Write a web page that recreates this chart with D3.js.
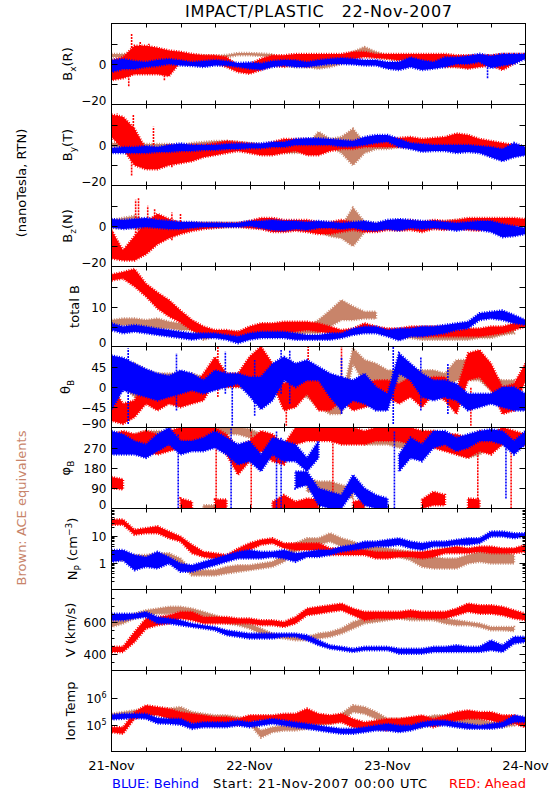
<!DOCTYPE html>
<html><head><meta charset="utf-8">
<script src="https://cdn.jsdelivr.net/npm/d3@7"></script>
<style>body{margin:0;background:#fff}svg{display:block}text{font-family:"DejaVu Sans",sans-serif}</style>
</head><body><svg id="c" width="550" height="800"></svg>
<script>
// time grid (hours after 21-Nov-2007 00:00 UTC)
const hours = [0,2,4,6,8,10,12,14,16,18,20,22,24,26,28,30,32,34,36,38,40,42,44,46,48,50,52,54,56,58,60,62,64,66,68,70,72];
const tickHours = [0,6,12,18,24,30,36,42,48,54,60,66,72];
const dayHours = [0,24,48,72];
const dayLabels = ["21-Nov","22-Nov","23-Nov","24-Nov"];

// ---- Bx (R) nT, [low, high] envelope per time ----
const bxBlue = [[-4,2],[-2.5,2.5],[-2.5,1.5],[-1.5,1],[-1,2],[0,2.5],[-0.7,1.8],[-1,1],[-1.5,1.5],[-0.7,2],[-0.7,1.5],[-1.5,0.5],[-2.3,0.8],[-2.8,0.3],[-1.5,1.5],[-0.7,2],[-1.5,1.8],[-1.5,1],[-0.7,2],[0,2.6],[0,3],[-0.2,2.6],[-0.7,2],[-0.7,2],[-2.3,1],[-3,1],[-1.5,3.3],[-3,1.8],[-2.3,1],[-1.5,3.3],[0,3.3],[0,4],[1,5],[-2,4],[-0.7,5],[0,5],[2.6,5]];
const bxRed = [[-8,2],[-7,3.4],[-5,9],[-5,9],[-5,8],[-6,6.7],[1,6],[1,5],[1,4.3],[0.2,4.3],[-1.5,3.4],[-4,-0.7],[-4.8,0],[-3,2.6],[-0.7,4.3],[-1.5,4.3],[0.2,5],[-1.5,5],[1,5],[1.8,5],[1,5],[2.6,6],[3.4,6],[3,5],[2.6,5],[1.8,5],[2.6,5],[1.8,5],[0.2,5],[-1.5,5],[-1.5,4.3],[-2.3,4.3],[-1.5,4.3],[-0.7,4.3],[-3,5],[0.2,5],[3.4,5]];
const bxBrown = [[3.4,5],[3.4,5],[3.4,5],[2.6,4.3],[2.6,4.3],[2.6,4.3],[2.6,4.3],[2.6,4.3],[2.6,4.3],[2.6,4],[3.4,4.5],[4.3,5.4],[4.3,5.4],[4,5.2],[3.4,4.8],[-1,2],[-1.5,1],[-1.5,1],[-2.3,0.5],[-1.5,1.8],[0,3.4],[2.6,6],[6,8.4],[3.4,6],[2.6,4.3],[1.8,4],[1.8,4],[1,3.4],[1,3.4],[-1,2.6],[-1.5,1.8],[-1.5,1.8],[-0.7,2.6],[0,3],[0,3],[0.5,3.4],null];
const bxRedSpikes = [[3.0,-11,2],[3.5,2,15],[5,4,11],[6.5,2,10],[9.2,-8,0]];
const bxBlueSpikes = [[65.4,-7,1]];

// ---- By (T) nT ----
const byBlue = [[-4,-1.5],[-4,-1],[-4,-1],[-4,-0.5],[-3.5,-1],[-3.5,0],[-3,0.8],[-3,0],[-2.5,0],[-2.5,0],[-2,0.5],[-2,0.8],[-1.6,0.8],[-1.6,0.8],[-1,1.5],[-1,1.5],[0,3],[0,3.3],[0,3.3],[0,3],[-0.8,2.5],[-0.8,2],[0,4],[1,5],[1.6,5],[-1,3],[-2,1],[-3.3,0.5],[-3,0],[-3,0],[-4,0],[-3.5,0],[-4,-0.5],[-6,-1],[-8,-2],[-6,1],[-5,-1]];
const byRed = [[4,15],[-2,14],[-10,8],[-12,-2],[-12,-3],[-10,0],[-9,-1],[-8,0],[-6,0],[-5,1],[-4,2],[-3,1.5],[-4,0.8],[-5,0],[-5,1.5],[-4,3],[-3,3],[-5,3],[-5,1],[-3,1],[-2,1.5],[-2,2],[-1,3],[-1,3],[-1,3],[-1,3.5],[-1,4],[-1,3],[-1,3.5],[-1,4],[0,5.7],[-1,5],[-2,3],[-2,2],[-2,1],[-2.5,0],[-3,-1]];
const byBrown = [[-1,1],[-1,1],[-2,1],[-2,0.5],[-2,0.5],[-2,0.5],[-2,0],[-1,1],[-0.5,1.5],[0,2],[0,2],[-0.5,1.5],[-1,1],[-2,0.5],[-3,0],[-4,-1],[-4,-1],[-3,0],[3,6.5],[-1,3],[-4,4],[-10,8],[-4,1],[-2,1],[-2,1],[-1,1.5],[-1,1.5],[-1,1],[-1,1],[-1,1],[-2,0.5],[-2,0.5],[-2,0],[-2,0],[-2,0],[-2,0],null];
const byRedSpikes = [[1,5,15.6],[3.5,-15,-3],[3.8,2,15],[7.3,-3,9],[10.5,-11,0]];

// ---- Bz (N) nT ----
const bzBlue = [[-0.7,3.4],[-1.5,3],[-1,3.4],[-0.5,4],[-1,3],[-1.5,2.6],[-1.5,2],[-1,2],[-0.5,1.6],[-0.5,1.6],[-0.5,1.5],[-0.5,1.5],[0,2.5],[-1,2.5],[-2,3],[-2.3,2.5],[-1.5,2.5],[-2,2],[-1,2.5],[-1,2],[-1.5,1.5],[-1,2],[-2,2.5],[-2.3,1.5],[-1.5,3],[-2.3,3.4],[-1,3],[-1.5,2.5],[-1,2.5],[-1.5,2],[-2.3,1.5],[-1.5,2],[-2,2.5],[-3,2.5],[-5.5,1],[-5,0],[-4,-1]];
const bzRed = [[-16,-2],[-17,-12],[-17,-5],[-14,2],[-9,6],[-6,3.4],[-4,1.5],[-2.5,1.5],[-1.5,1.5],[-1,1.5],[-0.5,1.5],[-0.5,1.5],[-1,2.5],[-1.5,4],[-3,4],[-3,3],[-2.3,3],[-3,3],[-4,2],[-4,2],[-3,3],[-2,2],[-3,1],[-3,0.5],[-2,2],[-2.3,2],[-2,3],[-3,2],[-1.5,3],[-2,2.5],[-1,3],[-2,4],[-2.3,4],[-1,4],[-1,4],[0,4],[0,3.4]];
const bzBrown = [[-1,3],[-1,4],[-1,5],[-2,3],[-2,2],[-2,2],[-1.5,1.5],[-1,1.5],[-0.5,1.5],[-0.5,1.5],[-0.5,1.5],[0,1.5],[-0.5,1.5],[-1,1.5],[-1,2],[-1,1.5],[-1.5,1],[-2,1],[-3,0],[-5,-1],[-6,0],[-10,9],[-3,2],[-2,1.5],[-1,1.5],[-1,2],[-0.5,2],[-0.5,2],[0,2],[-0.5,2.5],[0,3],[0,3],[-0.5,2.5],[-1,2],[-1,2],[0,3],null];
const bzRedSpikes = [[4.2,-5,13],[4.7,-5,14],[6.3,-5,10],[7.5,-6,8.4],[10.5,-7,6.7],[12,-4,6.2]];

// ---- total B nT ----
const tbRed = [[16.5,18],[17,18.6],[15,19.4],[12.5,15.7],[9.5,13.5],[7.5,11.6],[6,9],[4,6.6],[2.9,5],[2.9,4.1],[2.5,4.1],[2.5,3.7],[2.5,5],[2.9,5.8],[3.3,5.8],[3.3,6.2],[3.7,6.2],[4.1,6.2],[3.7,5.8],[3.3,5],[2.9,4.1],[3.3,4.5],[4.1,5.8],[3.7,5],[3.3,4.5],[2.5,4.5],[2.9,5],[2.5,5],[2.5,5],[2.5,5],[2.5,4.1],[2.5,4.5],[2.5,4.5],[2.9,5],[3.3,5],[4.1,5.8],[5,6.6]];
const tbBlue = [[4.1,5.8],[3.3,5],[3.7,5.4],[3.3,5],[2.9,4.5],[2.5,4.1],[2.1,3.7],[1.7,3.3],[2.1,3.3],[2.1,3.3],[1.7,2.9],[0.8,2.5],[1.7,3.3],[2.1,3.7],[2.1,3.7],[2.1,3.7],[1.7,3.3],[1.7,2.9],[1.7,2.9],[1.7,3.3],[2.1,3.3],[2.9,4.5],[3.3,5],[3.3,5],[2.5,4.1],[1.5,4.5],[2.5,4.5],[2.5,5],[2.9,5],[3.3,5.4],[4.1,5.8],[4.5,6.2],[6.6,8.3],[7,8.7],[6.6,9],[5.8,7.9],[5.4,6.6]];
const tbBrown = [[5,6.6],[5.4,7],[5,7],[5,6.6],[4.5,7],[4.5,6.2],[4.1,5.8],[4.1,5.4],[1.7,4.1],[2.5,3.7],[2.5,3.7],[2.5,3.7],[2.5,3.7],[2.5,3.7],[2.5,3.7],[2.9,4.5],[2.9,4.5],[3.3,5],[3.3,6.6],[5,9],[6.6,11.6],[6.6,10],[7,8.7],[7,8.7],null,[2.1,3.7],[2.1,3.7],[1.7,3.3],[1.7,3.3],[1.7,3.3],[1.7,3.3],[1.7,3.3],[2.1,3.7],[2.1,3.3],[2.9,4.5],[3.3,5],null];

// ---- theta_B deg ----
const thBlue = [[-50,70],[-7,65],[-15,52],[-22,40],[-30,30],[-22,25],[-15,37],[-7,30],[-15,15],[-7,37],[0,30],[7,30],[-20,22],[-50,22],[-30,52],[15,67],[0,52],[15,60],[15,45],[-22,30],[-52,22],[-30,15],[-37,30],[-52,0],[-52,-15],[30,75],[15,52],[-22,30],[-30,15],[-22,15],[-30,7],[-52,-15],[-45,-15],[-37,-15],[-45,0],[-52,0],[-52,-15]];
const thRed = [[-75,0],[-82,-37],[-67,-30],[-37,22],[-52,22],[-37,7],[-45,7],[-37,0],[-30,30],[15,67],[0,30],[0,30],[7,67],[22,90],[7,52],[-52,7],[-45,22],[-15,52],[-52,15],[-52,0],[-30,15],[-52,7],[-45,7],[-37,15],[-22,15],[-37,7],[-22,22],[-45,15],[-15,22],[-30,22],[-60,-7],[15,75],[22,82],[-7,52],[-60,0],[-52,7],[15,52]];
const thBrown = [[0,52],[0,52],[-22,52],[-22,37],[-15,30],[-7,30],[-7,30],[-7,30],[-7,22],[0,22],[0,22],[0,22],[-7,15],[-7,15],[-7,15],[-22,7],[-22,0],[-22,0],[-45,-15],[-60,-37],[-60,-30],[52,86],[7,60],[7,52],[0,37],[0,37],[0,37],[-7,37],[-7,37],[-7,30],[15,60],[15,60],[15,60],[-7,22],[-22,15],[-22,15],null];
const thBlueSpikes = [[2.9,-82,86],[11.3,-52,75],[19.8,-15,79],[21,-86,7],[24.9,-64,60],[29.5,-15,82],[31,-37,82],[40,-60,67],[49,-82,90],[53.8,-52,67],[58.5,-60,52]];
const thRedSpikes = [[18.5,-22,90],[25.8,-30,90],[30.4,-86,-15],[34.2,0,90],[40,-52,90],[62.5,-86,0]];

// ---- phi_B deg (upper and wrapped lower populations) ----
const phBlueA = [[240,345],[240,330],[240,300],[225,285],[255,330],[285,360],[240,300],[255,300],[255,315],[270,345],[240,315],[195,285],[210,300],[165,240],[240,315],[210,300],[210,285],[165,225],[225,300],null,null,null,null,null,null,[165,240],[225,315],[210,285],[270,345],[285,345],[255,315],[270,330],[300,345],[300,352],[285,345],[240,300],[285,345]];
const phBlueB = [null,null,null,null,null,null,null,null,null,null,null,null,null,null,null,null,[90,165],[105,165],[15,90],[0,75],[0,60],[75,150],[15,90],[0,60],[0,45],null,null,null,null,null,null,null,null,null,null,null,null];
const phRedA = [[255,330],[270,345],[255,330],[255,345],[240,330],[255,345],[270,360],[270,360],[285,360],[285,360],[240,330],[150,270],[210,300],[255,345],[210,330],[195,285],[285,360],[300,360],[300,360],[300,360],[285,360],[285,360],[285,345],[300,360],[300,360],[300,360],[285,360],[285,345],[270,345],[255,330],[240,330],[225,315],[255,345],[240,330],[285,360],[270,345],[285,330]];
const phRedB = [[90,140],[85,130],null,null,null,null,[0,45],[0,30],null,[0,40],[0,40],null,null,null,[0,30],[0,60],[0,30],[0,45],[0,40],null,null,[0,30],[0,40],null,null,null,null,[0,40],[15,75],[15,60],null,[0,45],[0,40],null,null,null,null];
const phBrownA = [[270,330],[270,330],[270,330],[300,345],[300,345],[300,345],[285,330],[300,345],[315,360],[330,360],[330,360],[330,360],[315,355],[285,330],[270,315],[225,270],[240,300],null,null,null,null,null,[285,330],[285,330],[285,330],[270,315],[270,330],[285,345],[285,345],[270,330],[240,300],[225,285],[240,300],[270,330],[285,345],[285,345],null];
const phBrownB = [null,null,null,null,null,null,null,null,[0,15],[0,15],null,null,null,null,null,null,null,[75,135],[75,120],[60,120],[60,105],[45,90],null,null,null,null,null,null,null,null,null,null,null,null,null,null,null];
const phBlueSpikes = [[11.6,0,330],[20.8,0,360],[28.7,0,345],[29.5,0,315],[49.2,0,345],[68.6,45,285]];
const phRedSpikes = [[18.2,0,315],[24.3,0,345],[38.5,0,330],[63.7,15,285],[69.5,0,315]];

// ---- Np cm^-3 ----
const npRed = [[25,39],[25,39],[10.6,16.3],[12.2,18.8],[12.2,21.8],[7.9,14.1],[6,9.2],[2.2,4.5],[1.6,2.5],[1.4,2.2],[1.2,1.9],[1.9,3.3],[2.9,5.2],[4.5,6.9],[5.2,7.9],[3.35,5.2],[2.9,5.2],[2.9,5.2],[2.9,5.2],[1.9,3.35],[1.9,3.35],[1.9,3.35],[1.9,2.9],[1.4,2.5],[1.4,2.5],[1.6,2.5],[1.6,2.5],[1.4,2.5],[1.6,2.9],[2.2,3.35],[2.2,3.9],[2.2,3.35],[2.5,3.9],[2.2,3.9],[2.2,3.35],[2.2,3.35],[2.5,4.5]];
const npBlue = [[1.06,2.9],[1.2,2.9],[0.52,1.9],[0.69,1.6],[0.6,2.5],[0.92,1.6],[0.45,0.92],[0.45,0.79],[0.6,1.06],[0.79,1.4],[1.06,1.9],[1.4,2.5],[1.4,2.9],[1.4,2.5],[1.6,2.5],[1.4,2.9],[1.06,2.2],[1.6,2.5],[1.6,2.9],[1.9,2.9],[2.5,3.9],[2.9,4.5],[3.35,6],[3.9,6],[3.9,6.9],[4.5,7.9],[3.35,6],[2.9,5.2],[3.9,6],[3.9,6],[4.5,6.9],[4.5,7.9],[5.2,7.9],[9.2,14.1],[9.2,14.1],[7.9,12.2],[9.2,12.2]];
const npBrown = [[1.2,1.9],[1.2,1.9],[1.06,1.9],[1.2,1.9],[1.4,2.2],[1.4,2.2],[0.79,1.4],[0.33,0.52],[0.33,0.52],[0.33,0.52],[0.39,0.69],[0.45,0.79],[0.52,0.79],[0.6,0.92],[0.69,1.06],[1.06,1.9],[2.5,5.2],[3.9,7.9],[4.5,7.9],[6,12.2],[3.9,7.9],[3.35,6],[2.2,3.9],[1.9,3.9],[1.9,3.35],[1.6,2.9],[1.22,2.5],[0.69,1.9],[0.6,1.6],[0.6,1.4],[0.6,1.4],[0.92,1.9],[1.06,2.5],[0.92,2.2],[0.92,2.5],[0.92,1.9],null];

// ---- V km/s ----
const vRed = [[414,446],[414,446],[476,538],[559,621],[579,631],[590,641],[621,662],[610,662],[590,631],[590,631],[590,631],[590,621],[590,621],[579,610],[579,610],[569,600],[590,631],[641,682],[651,693],[662,703],[672,713],[641,682],[610,662],[621,662],[621,662],[621,662],[631,672],[621,662],[621,662],[621,662],[641,682],[662,713],[651,703],[651,703],[641,693],[621,672],[610,651]];
const vBlue = [[610,651],[610,651],[621,651],[631,662],[590,631],[590,621],[579,610],[569,590],[559,579],[548,569],[518,548],[508,538],[497,528],[497,528],[497,528],[508,528],[508,528],[487,518],[456,487],[435,456],[425,446],[414,435],[425,446],[425,446],[425,446],[404,435],[404,435],[404,435],[414,446],[414,446],[414,456],[414,446],[414,446],[425,487],[414,456],[466,508],[476,508]];
const vBrown = [[569,621],[590,631],[621,651],[641,672],[651,682],[651,693],[662,693],[641,682],[621,662],[610,641],[590,621],[579,610],[559,590],[528,559],[508,528],[497,518],[487,508],[487,508],[497,528],[508,538],[528,559],[559,600],[590,621],[600,631],[610,641],[621,641],[610,641],[610,641],[610,641],[590,621],[579,610],[579,600],[569,590],[548,569],[548,569],[543,569],null];

// ---- Ion temperature K ----
const tBlue = [[154e3,230e3],[163e3,251e3],[173e3,251e3],[163e3,251e3],[110e3,175e3],[106e3,163e3],[97e3,163e3],[69e3,106e3],[79e3,122e3],[79e3,122e3],[79e3,122e3],[92e3,141e3],[79e3,122e3],[92e3,141e3],[106e3,163e3],[92e3,141e3],[79e3,122e3],[69e3,106e3],[60e3,92e3],[52e3,79e3],[45e3,69e3],[45e3,69e3],[52e3,79e3],[60e3,92e3],[60e3,106e3],[52e3,92e3],[60e3,92e3],[79e3,122e3],[92e3,141e3],[92e3,141e3],[79e3,122e3],[69e3,106e3],[69e3,92e3],[69e3,106e3],[79e3,122e3],[122e3,218e3],[122e3,188e3]];
const tRed = [[52e3,79e3],[45e3,79e3],[163e3,290e3],[218e3,516e3],[218e3,447e3],[163e3,387e3],[106e3,290e3],[106e3,251e3],[106e3,218e3],[92e3,188e3],[106e3,188e3],[92e3,163e3],[122e3,218e3],[141e3,218e3],[141e3,218e3],[141e3,251e3],[92e3,251e3],[106e3,387e3],[106e3,251e3],[106e3,218e3],[122e3,251e3],[79e3,163e3],[69e3,122e3],[69e3,141e3],[60e3,163e3],[79e3,163e3],[92e3,188e3],[106e3,218e3],[79e3,163e3],[106e3,218e3],[141e3,290e3],[163e3,335e3],[163e3,290e3],[141e3,290e3],[106e3,218e3],[106e3,218e3],[79e3,163e3]];
const tBrown = [[163e3,251e3],[163e3,290e3],[218e3,335e3],[218e3,387e3],[251e3,387e3],[218e3,387e3],[218e3,447e3],[163e3,290e3],[141e3,251e3],[141e3,218e3],[141e3,218e3],[122e3,188e3],[106e3,141e3],[33e3,60e3],[52e3,79e3],[60e3,92e3],[60e3,92e3],[69e3,106e3],[92e3,141e3],[106e3,163e3],[141e3,251e3],[290e3,516e3],[251e3,447e3],[163e3,290e3],[79e3,163e3],[79e3,163e3],[79e3,163e3],[79e3,163e3],[141e3,218e3],[122e3,218e3],[122e3,218e3],[106e3,188e3],[92e3,163e3],[79e3,122e3],[79e3,122e3],[92e3,141e3],null];

// ---- axis tick values / labels ----
const bTicks = [-10,0,10], bLabels = [0,-20];
const tbTicks = [5,10,15], tbLabels = [0,10];
const thTicks = [-45,0,45], thLabels = [45,0,-45,-90];
const phTicks = [90,180,270], phLabels = [270,180,90,0];
const npTicks = [1,10], npMinor = [0.2,0.3,0.4,0.5,0.6,0.7,0.8,0.9,2,3,4,5,6,7,8,9,20,30,40,50,60,70,80,90], npLabels = [10,1];
const vTicks = [400,600], vMinor = [350,450,500,550,650,700,750], vLabels = [600,400];
const tTicks = [1e5,1e6], tLabels = [1e6,1e5];

const colors = {red:"#ff0000", blue:"#0000ff", brown:"#c8846a"};

const svg = d3.select("#c");
const x = d3.scaleLinear().domain([0,72]).range([111.5,525.5]);
const tops = [23.5,104.5,185.5,266.5,346.5,427.5,508.5,589.5,670.5,751.5];
const fmt = d3.format("d");

const panels = [
  {domain:[-20,20], layers:[[bxBrown,"brown"],[bxRed,"red"],[bxRedSpikes,"red",1],[bxBlue,"blue"],[bxBlueSpikes,"blue",1]], ticks:bTicks, labels:bLabels,
   title:[["B"],["x","sub"],["(R)"]], tx:71.5},
  {domain:[-20,20], layers:[[byBrown,"brown"],[byRed,"red"],[byRedSpikes,"red",1],[byBlue,"blue"]], ticks:bTicks, labels:bLabels,
   title:[["B"],["y","sub"],["(T)"]], tx:71.5},
  {domain:[-20,20], layers:[[bzBrown,"brown"],[bzRed,"red"],[bzRedSpikes,"red",1],[bzBlue,"blue"]], ticks:bTicks, labels:bLabels,
   title:[["B"],["z","sub"],["(N)"]], tx:71.5},
  {domain:[0,20], layers:[[tbBrown,"brown"],[tbRed,"red"],[tbBlue,"blue"]], ticks:tbTicks, labels:tbLabels,
   title:[["total B"]], tx:79},
  {domain:[-90,90], layers:[[thBrown,"brown"],[thRed,"red"],[thRedSpikes,"red",1],[thBlue,"blue"],[thBlueSpikes,"blue",1]], ticks:thTicks, labels:thLabels,
   title:[["θ"],["B","sub"]], tx:70},
  {domain:[0,360], layers:[[phBrownA,"brown"],[phBrownB,"brown"],[phRedA,"red"],[phRedB,"red"],[phRedSpikes,"red",1],[phBlueA,"blue"],[phBlueB,"blue"],[phBlueSpikes,"blue",1]], ticks:phTicks, labels:phLabels,
   title:[["φ"],["B","sub"]], tx:70},
  {domain:[0.1,100], log:true, layers:[[npBrown,"brown"],[npRed,"red"],[npBlue,"blue"]], ticks:npTicks, minor:npMinor, labels:npLabels,
   title:[["N"],["P","sub"],[" (cm"],["−3","sup"],[")"]], tx:77},
  {domain:[300,800], layers:[[vBrown,"brown"],[vRed,"red"],[vBlue,"blue"]], ticks:vTicks, minor:vMinor, labels:vLabels,
   title:[["V (km/s)"]], tx:75},
  {domain:[1e4,1e7], log:true, layers:[[tBrown,"brown"],[tRed,"red"],[tBlue,"blue"]], ticks:tTicks, labels:tLabels, exp:true,
   title:[["Ion Temp"]], tx:75}
];

const defs = svg.append("defs");

panels.forEach((p, i) => {
  const top = tops[i], bot = tops[i+1];
  const y = (p.log ? d3.scaleLog() : d3.scaleLinear()).domain(p.domain).range([bot, top]);
  defs.append("clipPath").attr("id","cp"+i).append("rect")
    .attr("x", x(0)).attr("y", top).attr("width", x(72)-x(0)).attr("height", bot-top);
  const dg = svg.append("g").attr("clip-path", `url(#cp${i})`);
  p.layers.forEach(([data, col, spike]) => {
    if (spike) {
      dg.selectAll(null).data(data).join("line")
        .attr("x1", d => x(d[0])).attr("x2", d => x(d[0]))
        .attr("y1", d => y(d[1])).attr("y2", d => y(d[2]))
        .attr("stroke", colors[col]).attr("stroke-width", 1.6).attr("stroke-dasharray","2 1");
    } else {
      const area = d3.area().defined(d => d != null)
        .x((d,k) => x(hours[k])).y0(d => y(d[0])).y1(d => y(d[1]));
      const dstr = area(data);
      dg.append("path").attr("d", dstr).attr("fill", colors[col]);
      // ragged fringe along the envelope edge
      dg.append("path").attr("d", dstr).attr("fill", "none")
        .attr("stroke", colors[col]).attr("stroke-width", 2.5).attr("stroke-dasharray", "1 1.5");
    }
  });
  // frame
  svg.append("rect").attr("x", x(0)).attr("y", top).attr("width", x(72)-x(0)).attr("height", bot-top)
    .attr("fill","none").attr("stroke","#000").attr("stroke-width",1);
  // x ticks
  const ag = svg.append("g").attr("stroke","#000").attr("stroke-width",1);
  tickHours.filter(h => h > 0 && h < 72).forEach(h => {
    const xx = Math.round(x(h)) + 0.5;
    ag.append("line").attr("x1",xx).attr("x2",xx).attr("y1",top).attr("y2",top+4);
    ag.append("line").attr("x1",xx).attr("x2",xx).attr("y1",bot).attr("y2",bot-4);
  });
  // y ticks
  const yt = (v, len) => {
    const yy = Math.round(y(v)) + 0.5;
    ag.append("line").attr("x1",x(0)).attr("x2",x(0)+len).attr("y1",yy).attr("y2",yy);
    ag.append("line").attr("x1",x(72)).attr("x2",x(72)-len).attr("y1",yy).attr("y2",yy);
  };
  p.ticks.forEach(v => yt(v, 6));
  (p.minor || []).forEach(v => yt(v, 3));
  // labels
  p.labels.forEach(v => {
    const yy = y(v) + (v === p.domain[0] ? -3.5 : 0.8);
    const t = svg.append("text").attr("x",106.5).attr("y",yy).attr("dy","0.36em")
      .attr("text-anchor","end").attr("font-size",12).attr("fill","#000");
    if (p.exp) {
      t.append("tspan").text("10");
      t.append("tspan").attr("font-size",8).attr("dy","-0.6em").text(String(Math.round(Math.log10(v))));
    } else {
      t.text(fmt(v));
    }
  });
  // y title
  const cy = (top + bot) / 2;
  const tt = svg.append("text").attr("transform",`translate(${p.tx},${cy}) rotate(-90)`)
    .attr("text-anchor","middle").attr("font-size",13).attr("fill","#000");
  let shift = 0;
  p.title.forEach(([s, kind]) => {
    const sp = tt.append("tspan").text(s);
    let target = 0;
    if (kind === "sub") { sp.attr("font-size",9); target = 4; }
    if (kind === "sup") { sp.attr("font-size",9); target = -5; }
    if (target !== shift) { sp.attr("dy", target - shift); shift = target; }
  });
  if (shift !== 0) tt.append("tspan").attr("dy", -shift).text("");
});

// title
svg.append("text").attr("x",318.5).attr("y",16.5).attr("text-anchor","middle")
  .style("white-space","pre").attr("xml:space","preserve")
  .attr("font-size",16).attr("textLength",267).attr("lengthAdjust","spacing").text("IMPACT/PLASTIC   22-Nov-2007");
// left labels
svg.append("text").attr("transform","translate(25.5,183) rotate(-90)").attr("text-anchor","middle")
  .attr("font-size",13).text("(nanoTesla, RTN)");
svg.append("text").attr("transform","translate(25.5,508) rotate(-90)").attr("text-anchor","middle")
  .attr("font-size",13).attr("fill",colors.brown).text("Brown: ACE equivalents");
// date labels
dayHours.forEach((h, k) => {
  svg.append("text").attr("x", x(h)).attr("y", 769.5).attr("text-anchor","middle")
    .attr("font-size",13).text(dayLabels[k]);
});
svg.append("text").attr("x",112).attr("y",787.5).attr("font-size",13).attr("fill",colors.blue).text("BLUE: Behind");
svg.append("text").attr("x",213).attr("y",787.5).attr("font-size",13).attr("textLength",214).attr("lengthAdjust","spacing").text("Start: 21-Nov-2007 00:00 UTC");
svg.append("text").attr("x",526).attr("y",787.5).attr("font-size",13).attr("text-anchor","end").attr("fill",colors.red).text("RED: Ahead");
</script>
</body></html>
